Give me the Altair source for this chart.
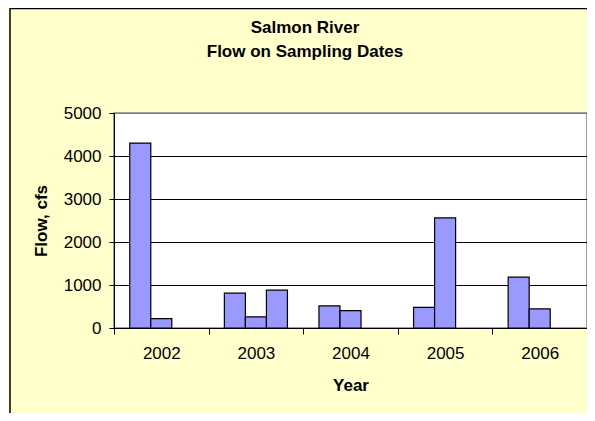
import altair as alt
import pandas as pd

years = ["2002", "2003", "2004", "2005", "2006"]
sample_1 = [4300, 810, 515, 480, 1185]
sample_2 = [220, 260, 405, 2560, 445]
sample_3 = [None, 880, None, None, None]
samples = ["1", "2", "3"]
y_ticks = [0, 1000, 2000, 3000, 4000, 5000]
title_lines = ["Salmon River", "Flow on Sampling Dates"]

rows = []
for i, yr in enumerate(years):
    for s, vals in zip(samples, [sample_1, sample_2, sample_3]):
        if vals[i] is not None:
            rows.append({"Year": yr, "Sample": s, "Flow": vals[i]})
df = pd.DataFrame(rows)

W, H = 473, 215
FONT = "Liberation Sans"

bars = alt.Chart(df).mark_bar(fill="#9999FF", stroke="black", strokeWidth=1.2).encode(
    x=alt.X(
        "Year:N", sort=years,
        scale=alt.Scale(paddingInner=0, paddingOuter=0),
        axis=alt.Axis(title="Year", labelAngle=0, tickBand="extent", grid=False,
                      domainColor="black", tickColor="black", tickSize=6,
                      labelPadding=11, labelFontSize=17, labelFont=FONT, labelColor="black",
                      titleFontSize=17, titleFont=FONT, titleFontWeight="bold",
                      titleColor="black", titlePadding=16),
    ),
    xOffset=alt.XOffset("Sample:N", scale=alt.Scale(domain=samples, paddingInner=0, paddingOuter=0.75)),
    y=alt.Y(
        "Flow:Q",
        scale=alt.Scale(domain=[0, 5000], nice=False),
        axis=alt.Axis(title="Flow, cfs", values=y_ticks, format="d", grid=True,
                      gridColor={"condition": {"test": "datum.value === 5000", "value": "#808080"}, "value": "black"},
                      gridWidth=1,
                      domainColor="black", tickColor="black", tickSize=5,
                      labelPadding=8, labelFontSize=17, labelFont=FONT, labelColor="black",
                      titleFontSize=17, titleFont=FONT, titleFontWeight="bold",
                      titleColor="black", titlePadding=13),
    ),
)

one = pd.DataFrame({"a": [0]})
left_border = alt.Chart(one).mark_rule(color="black", strokeWidth=1.5).encode(
    x=alt.value(-104), y=alt.value(-105), y2=alt.value(H + 90)
)
top_border = alt.Chart(one).mark_rule(color="black", strokeWidth=1.5).encode(
    x=alt.value(-104), x2=alt.value(W + 10), y=alt.value(-104.5)
)
title1 = alt.Chart(pd.DataFrame({"t": [title_lines[0]]})).mark_text(
    font=FONT, fontSize=17, fontWeight="bold", color="black", align="center", baseline="alphabetic"
).encode(text="t:N", x=alt.value(191), y=alt.value(-80))
title2 = alt.Chart(pd.DataFrame({"t": [title_lines[1]]})).mark_text(
    font=FONT, fontSize=17, fontWeight="bold", color="black", align="center", baseline="alphabetic"
).encode(text="t:N", x=alt.value(191), y=alt.value(-56))

chart = alt.layer(bars, left_border, top_border, title1, title2).properties(
    width=W, height=H,
    autosize=alt.AutoSizeParams(type="none"),
    padding={"left": 106, "top": 105, "right": 0, "bottom": 85},
    background="#FFFFCC",
).configure_view(stroke="#808080", strokeWidth=1.5, fill="white")

chart.save("out.html", embed_options={"renderer": "svg", "actions": False})
